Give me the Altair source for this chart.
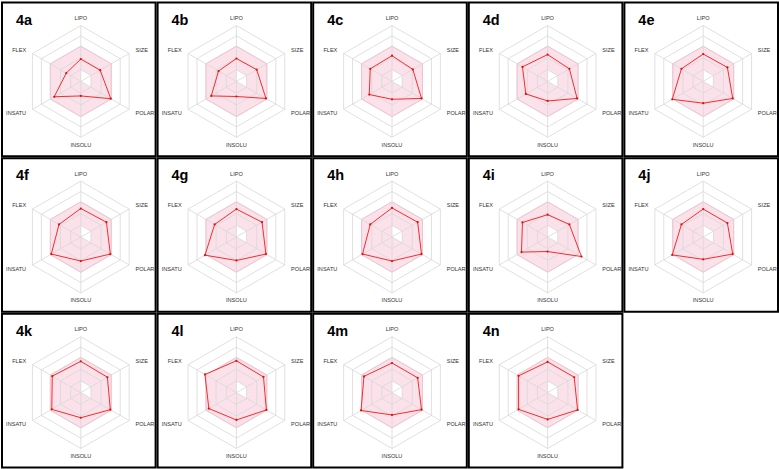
import altair as alt
import pandas as pd
import numpy as np

# ---- values (fraction of the outer radius) ----
panels = ["4a", "4b", "4c", "4d", "4e", "4f", "4g", "4h", "4i", "4j", "4k", "4l", "4m", "4n"]
axes_names = ["LIPO", "SIZE", "POLAR", "INSOLU", "INSATU", "FLEX"]
lipo   = [0.40, 0.41, 0.46, 0.48, 0.49, 0.51, 0.50, 0.52, 0.40, 0.50, 0.56, 0.57, 0.53, 0.55]
size   = [0.40, 0.42, 0.43, 0.45, 0.50, 0.53, 0.53, 0.53, 0.45, 0.50, 0.55, 0.56, 0.53, 0.55]
polar  = [0.62, 0.61, 0.61, 0.61, 0.61, 0.61, 0.61, 0.61, 0.70, 0.61, 0.61, 0.62, 0.61, 0.62]
insolu = [0.26, 0.27, 0.32, 0.35, 0.39, 0.43, 0.42, 0.43, 0.26, 0.40, 0.45, 0.49, 0.40, 0.48]
insatu = [0.55, 0.52, 0.47, 0.45, 0.64, 0.61, 0.65, 0.61, 0.54, 0.64, 0.60, 0.57, 0.64, 0.60]
flex   = [0.30, 0.37, 0.45, 0.52, 0.45, 0.45, 0.45, 0.45, 0.52, 0.45, 0.59, 0.65, 0.58, 0.60]

grid_levels = [0.21, 0.42, 0.63, 0.815, 1.0]
pink_outer = 0.63
pink_inner = 0.21          # inner bound on LIPO, SIZE, POLAR (others at centre)
label_radius = 1.13

# ---- geometry ----
angles_deg = [90, 30, -30, -90, -150, 150]
ang = np.radians(angles_deg)
cx, cy = np.cos(ang), np.sin(ang)
label_side = ["center", "left", "left", "center", "right", "right"]

series = [lipo, size, polar, insolu, insatu, flex]
rows = []
for p_i, p in enumerate(panels):
    r = pink_outer
    for xv, yt, yb in [(-0.866 * r, 0.5 * r, -0.5 * r), (0, r, -r), (0.866 * r, 0.5 * r, -0.5 * r)]:
        rows.append(dict(panel=p, kind="pink", x=xv, y=yt, y2=yb))
    for k in range(7):
        j = k % 6
        rows.append(dict(panel=p, kind="pinkline", x=r * cx[j], y=r * cy[j], idx=k))
    a = pink_inner
    for xv, yt, yb in [(0, a, 0), (0.866 * a, 0.5 * a, -0.5 * a)]:
        rows.append(dict(panel=p, kind="white", x=xv, y=yt, y2=yb))
    for lv in grid_levels:
        for k in range(7):
            j = k % 6
            rows.append(dict(panel=p, kind="grid", x=lv * cx[j], y=lv * cy[j], idx=k, level=lv))
    for j in range(6):
        rows.append(dict(panel=p, kind="spoke", x=0.0, y=0.0, x2=cx[j], y2=cy[j]))
    vals = [s[p_i] for s in series]
    for k in range(7):
        j = k % 6
        rows.append(dict(panel=p, kind="data", x=vals[j] * cx[j], y=vals[j] * cy[j], idx=k))
    for j in range(6):
        rows.append(dict(panel=p, kind="lab_" + label_side[j],
                         x=label_radius * cx[j], y=label_radius * cy[j], text=axes_names[j]))
    rows.append(dict(panel=p, kind="title", text=p))

df = pd.DataFrame(rows)

xs = alt.Scale(domain=[-1.411, 1.339], nice=False, zero=False)
ys = alt.Scale(domain=[-1.339, 1.411], nice=False, zero=False)
X = alt.X("x:Q", scale=xs, axis=None)
Y = alt.Y("y:Q", scale=ys, axis=None)


def panel_chart(p):
    d = df[df.panel == p]

    def sub(kind):
        return alt.Chart(d[d.kind == kind].dropna(axis=1, how="all"))

    pink = sub("pink").mark_area(orient="vertical", color="#fbe1ea", opacity=1).encode(x=X, y=Y, y2="y2:Q")
    white = sub("white").mark_area(orient="vertical", color="white", opacity=1).encode(x=X, y=Y, y2="y2:Q")
    grid = sub("grid").mark_line(color="#d8d8d8", strokeWidth=0.8).encode(
        x=X, y=Y, detail="level:N", order="idx:Q")
    pinkline = sub("pinkline").mark_line(color="#f3bccb", strokeWidth=0.8).encode(x=X, y=Y, order="idx:Q")
    spokes = sub("spoke").mark_rule(color="#d8d8d8", strokeWidth=0.8).encode(
        x=X, y=Y, x2="x2:Q", y2="y2:Q")
    dline = sub("data").mark_line(color="#f62b2b", strokeWidth=1).encode(x=X, y=Y, order="idx:Q")
    dpts = sub("data").transform_filter(alt.datum.idx < 6).mark_circle(
        color="#e01010", size=5, opacity=1).encode(x=X, y=Y)
    lab_kw = dict(font="Liberation Sans", fontSize=5.6, color="#333333", baseline="middle", clip=True)
    lab_c = sub("lab_center").mark_text(align="center", **lab_kw).encode(x=X, y=Y, text="text:N")
    lab_l = sub("lab_left").mark_text(align="left", **lab_kw).encode(x=X, y=Y, text="text:N")
    lab_r = sub("lab_right").mark_text(align="right", **lab_kw).encode(x=X, y=Y, text="text:N")
    title = sub("title").mark_text(
        align="left", baseline="alphabetic", font="Liberation Sans", fontWeight="bold",
        fontSize=14.5, color="black"
    ).encode(x=alt.value(14), y=alt.value(22), text="text:N")
    return alt.layer(pink, white, grid, pinkline, spokes, dline, dpts, lab_c, lab_l, lab_r, title).properties(
        width=154, height=154
    )


chart = alt.concat(*[panel_chart(p) for p in panels], columns=5, spacing=0).properties(
    padding={"left": 1, "top": 1, "right": 0, "bottom": 0},
    background="white",
).configure_view(
    stroke="black", strokeWidth=2
)

chart.save("out.html", embed_options={"renderer": "svg", "actions": False})
